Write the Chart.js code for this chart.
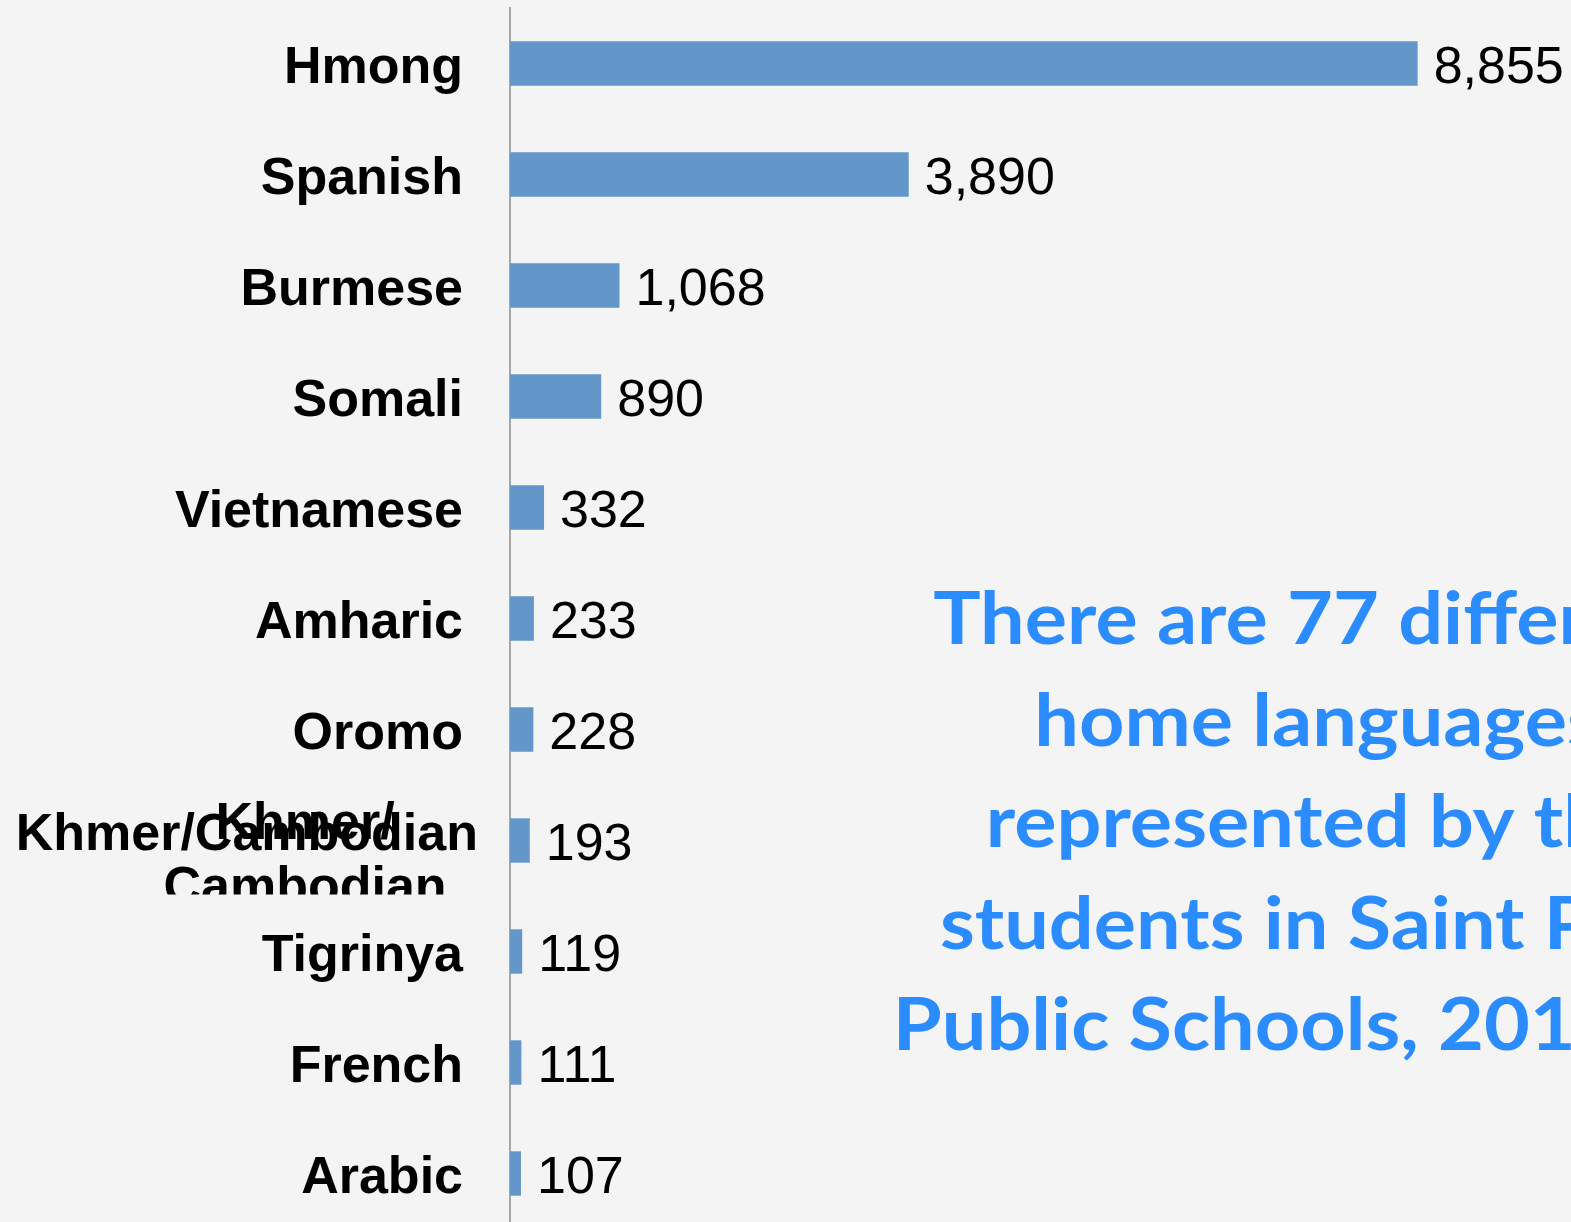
<!DOCTYPE html>
<html>
<head>
<meta charset="utf-8">
<script src="https://cdn.jsdelivr.net/npm/chart.js@4"></script>
<style>
  html, body { margin: 0; padding: 0; background: #f4f4f4; overflow: hidden; }
  #wrap { position: relative; width: 1571px; height: 1229px; }
</style>
</head>
<body>
<div id="wrap"><canvas id="bar-chart"></canvas></div>
<script>
// data
const languages = ['Hmong', 'Spanish', 'Burmese', 'Somali', 'Vietnamese', 'Amharic', 'Oromo', 'Khmer/Cambodian', 'Tigrinya', 'French', 'Arabic'];
const students = [8855, 3890, 1068, 890, 332, 233, 228, 193, 119, 111, 107];
const noteLines = ['There are 77 different', 'home languages', 'represented by the', 'students in Saint Paul', 'Public Schools, 2010-11'];

const barColor = '#6397ca';
const noteColor = '#2b8cff';

// value labels at bar ends + the odd Khmer label + the blue note
const extras = {
  id: 'extras',
  afterDatasetsDraw(chart) {
    const ctx = chart.ctx;
    const meta = chart.getDatasetMeta(0);
    ctx.save();
    ctx.fillStyle = '#000';
    ctx.font = '52px "Liberation Sans", Arial, sans-serif';
    ctx.textAlign = 'left';
    ctx.textBaseline = 'middle';
    meta.data.forEach((bar, i) => {
      ctx.fillText(students[i].toLocaleString('en-US'), bar.x + 16, bar.y + 5);
    });

    // Khmer/Cambodian label drawn twice, like in the slide
    const yk = chart.scales.y.getPixelForValue(7);
    ctx.font = 'bold 52px "Liberation Sans", Arial, sans-serif';
    ctx.textBaseline = 'alphabetic';
    ctx.textAlign = 'right';
    ctx.fillText('Khmer/Cambodian', 478, yk + 9);
    ctx.save();
    ctx.beginPath();
    ctx.rect(0, 0, 500, yk + 54);
    ctx.clip();
    ctx.textAlign = 'center';
    ctx.fillText('Khmer/', 305, yk - 2);
    ctx.fillText('Cambodian', 305, yk + 62);
    ctx.restore();

    // note text (a bit wider than Lato to look like Calibri)
    ctx.fillStyle = noteColor;
    ctx.font = 'bold 72px Lato, "Open Sans", sans-serif';
    ctx.textAlign = 'center';
    ctx.translate(1318, 0);
    ctx.scale(1.1, 1);
    noteLines.forEach((line, i) => {
      ctx.fillText(line, 0, 644 + i * 101.5);
    });
    ctx.restore();
  }
};

const myChart = new Chart(document.getElementById('bar-chart'), {
  type: 'bar',
  data: {
    labels: languages,
    datasets: [
      {
        data: students,
        backgroundColor: barColor,
        borderWidth: 0,
        barPercentage: 0.8,
        categoryPercentage: 0.5
      }
    ]
  },
  options: {
    indexAxis: 'y',
    responsive: true,
    maintainAspectRatio: false,
    animation: false,
    layout: { padding: { top: 8, right: 36, bottom: 0, left: 0 } },
    plugins: {
      legend: { display: false },
      tooltip: { enabled: false }
    },
    scales: {
      x: {
        display: false,
        min: 0,
        max: 10000
      },
      y: {
        afterFit(scale) {
          scale.width = 510;
          scale.paddingTop = 0;
          scale.paddingBottom = 0;
        },
        grid: { display: true, drawOnChartArea: false, drawTicks: false },
        border: { display: true, color: '#a6a6a6', width: 2 },
        ticks: {
          padding: 47,
          labelOffset: 5,
          color: '#000',
          font: { family: '"Liberation Sans", Arial, sans-serif', size: 52, weight: 'bold' },
          callback: (v, i) => (i === 7 ? '' : languages[i])
        }
      }
    }
  },
  plugins: [extras]
});
</script>
</body>
</html>
